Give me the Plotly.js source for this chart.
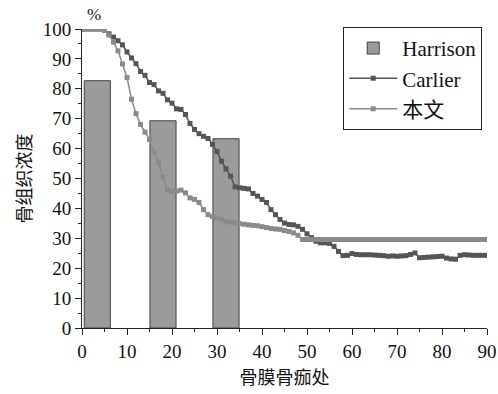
<!DOCTYPE html>
<html>
<head>
<meta charset="utf-8">
<script src="https://cdn.plot.ly/plotly-3.0.1.min.js"></script>
<style>html,body{margin:0;padding:0;background:#fff;}#chart{width:498px;height:394px;}</style>
</head>
<body>
<div id="chart"></div>
<script>
// Harrison bars
var harrisonX = [3.4, 18, 32];
var harrisonY = [82.7, 69.3, 63.3];

// Carlier series
var carlierX = [0,1,2,3,4,5,6,7,8,9,10,11,12,13,14,15,16,17,18,19,20,21,22,23,24,25,26,27,28,29,30,31,32,33,34,35,36,37,38,39,40,41,42,43,44,45,46,47,48,49,50,51,52,53,54,55,56,57,58,59,60,61,62,63,64,65,66,67,68,69,70,71,72,73,74,75,76,77,78,79,80,81,82,83,84,85,86,87,88,89,90];
var carlierY = [100,100,100,100,100,99.7,98.4,97.3,96.1,94.7,92.3,90.3,88.4,85.8,84.5,82.1,81.4,79.3,78.5,76.3,75.2,73.3,73.1,71.4,68.4,66.4,65,64.1,63.4,61.4,59,55.8,53.2,50.8,47.2,46.9,46.7,46.5,45,44.1,43,42,39.6,37.9,36.3,35.1,34.6,34.5,34,33,31.5,30.2,29,28.5,28.5,28.3,27.3,25.6,24.2,24.3,24.9,24.6,24.5,24.5,24.5,24.4,24.3,24.2,24,24.1,24,24.1,24.2,24.6,25.1,23.5,23.6,23.7,23.8,23.9,24,23.4,23.1,23,24.3,24.5,24.4,24.3,24.3,24.3,24.3];

// 本文 series
var benwenX = [0,1,2,3,4,5,6,7,8,9,10,11,12,13,14,15,16,17,18,19,20,21,22,23,24,25,26,27,28,29,30,31,32,33,34,35,36,37,38,39,40,41,42,43,44,45,46,47,48,49,50,51,52,53,54,55,56,57,58,59,60,61,62,63,64,65,66,67,68,69,70,71,72,73,74,75,76,77,78,79,80,81,82,83,84,85,86,87,88,89,90];
var benwenY = [100,100,100,100,100,99.5,98,95.6,92.7,88.3,83.8,76.5,71.7,68.1,65.5,63,58.8,55.4,50.5,46.1,45.7,45.8,46.1,45.2,43.5,43,42,39.6,37.9,37.3,36.8,36.3,35.7,35.4,35.1,34.9,34.7,34.5,34.3,34.2,33.9,33.6,33.3,33.1,33,32.6,32.3,31.8,31,29.6,29.6,29.6,29.6,29.6,29.6,29.6,29.6,29.6,29.6,29.6,29.6,29.6,29.6,29.6,29.6,29.6,29.6,29.6,29.6,29.6,29.6,29.6,29.6,29.6,29.6,29.6,29.6,29.6,29.6,29.6,29.6,29.6,29.6,29.6,29.6,29.6,29.6,29.6,29.6,29.6,29.6];

var seriesNames = ['Harrison', 'Carlier', '本文'];
var xTitle = '骨膜骨痂处';
var yTitle = '骨组织浓度';

var fontFam = '"Liberation Serif", "Noto Sans CJK SC", serif';

var traces = [
  {type: 'bar', name: seriesNames[0], x: harrisonX, y: harrisonY, width: 5.8,
   marker: {color: '#9b9b9b', line: {color: '#404040', width: 1}}},
  {type: 'scatter', mode: 'lines+markers', name: seriesNames[1], x: carlierX, y: carlierY,
   line: {color: '#555555', width: 1.5},
   marker: {symbol: 'square', size: 5, color: '#555555'}},
  {type: 'scatter', mode: 'lines+markers', name: seriesNames[2], x: benwenX, y: benwenY,
   line: {color: '#8a8a8a', width: 1.5},
   marker: {symbol: 'square', size: 5, color: '#8a8a8a'}}
];

var layout = {
  width: 498, height: 394,
  margin: {l: 82, r: 11, t: 29, b: 66},
  paper_bgcolor: '#fff', plot_bgcolor: '#fff',
  font: {family: fontFam, size: 19, color: '#111'},
  showlegend: true,
  legend: {x: 0.645, y: 1.007, xanchor: 'left', yanchor: 'top',
           bordercolor: '#222', borderwidth: 1, bgcolor: '#fff',
           font: {family: fontFam, size: 21, color: '#111'},
           itemwidth: 48},
  xaxis: {range: [0, 90], dtick: 10, tick0: 0, showgrid: false, zeroline: false,
          showline: true, linecolor: '#222', linewidth: 1,
          ticks: 'outside', ticklen: 6, tickcolor: '#222',
          minor: {dtick: 5, ticks: 'outside', ticklen: 3, tickcolor: '#222'},
          tickfont: {family: fontFam, size: 19, color: '#111'},
          title: {text: xTitle, font: {family: fontFam, size: 18, color: '#111'}, standoff: 10}},
  yaxis: {range: [0, 100], dtick: 10, tick0: 0, showgrid: false, zeroline: false,
          showline: true, linecolor: '#222', linewidth: 1,
          ticks: 'outside', ticklen: 6, tickcolor: '#222',
          minor: {dtick: 5, ticks: 'outside', ticklen: 3, tickcolor: '#222'},
          tickfont: {family: fontFam, size: 19, color: '#111'},
          title: {text: yTitle, font: {family: fontFam, size: 18, color: '#111'}, standoff: 6}},
  annotations: [{text: '%', xref: 'paper', yref: 'paper', x: 0.03, y: 1.01,
                 xanchor: 'center', yanchor: 'bottom', showarrow: false,
                 font: {family: fontFam, size: 17, color: '#111'}}]
};

Plotly.newPlot('chart', traces, layout, {displayModeBar: false, staticPlot: true});
</script>
</body>
</html>
